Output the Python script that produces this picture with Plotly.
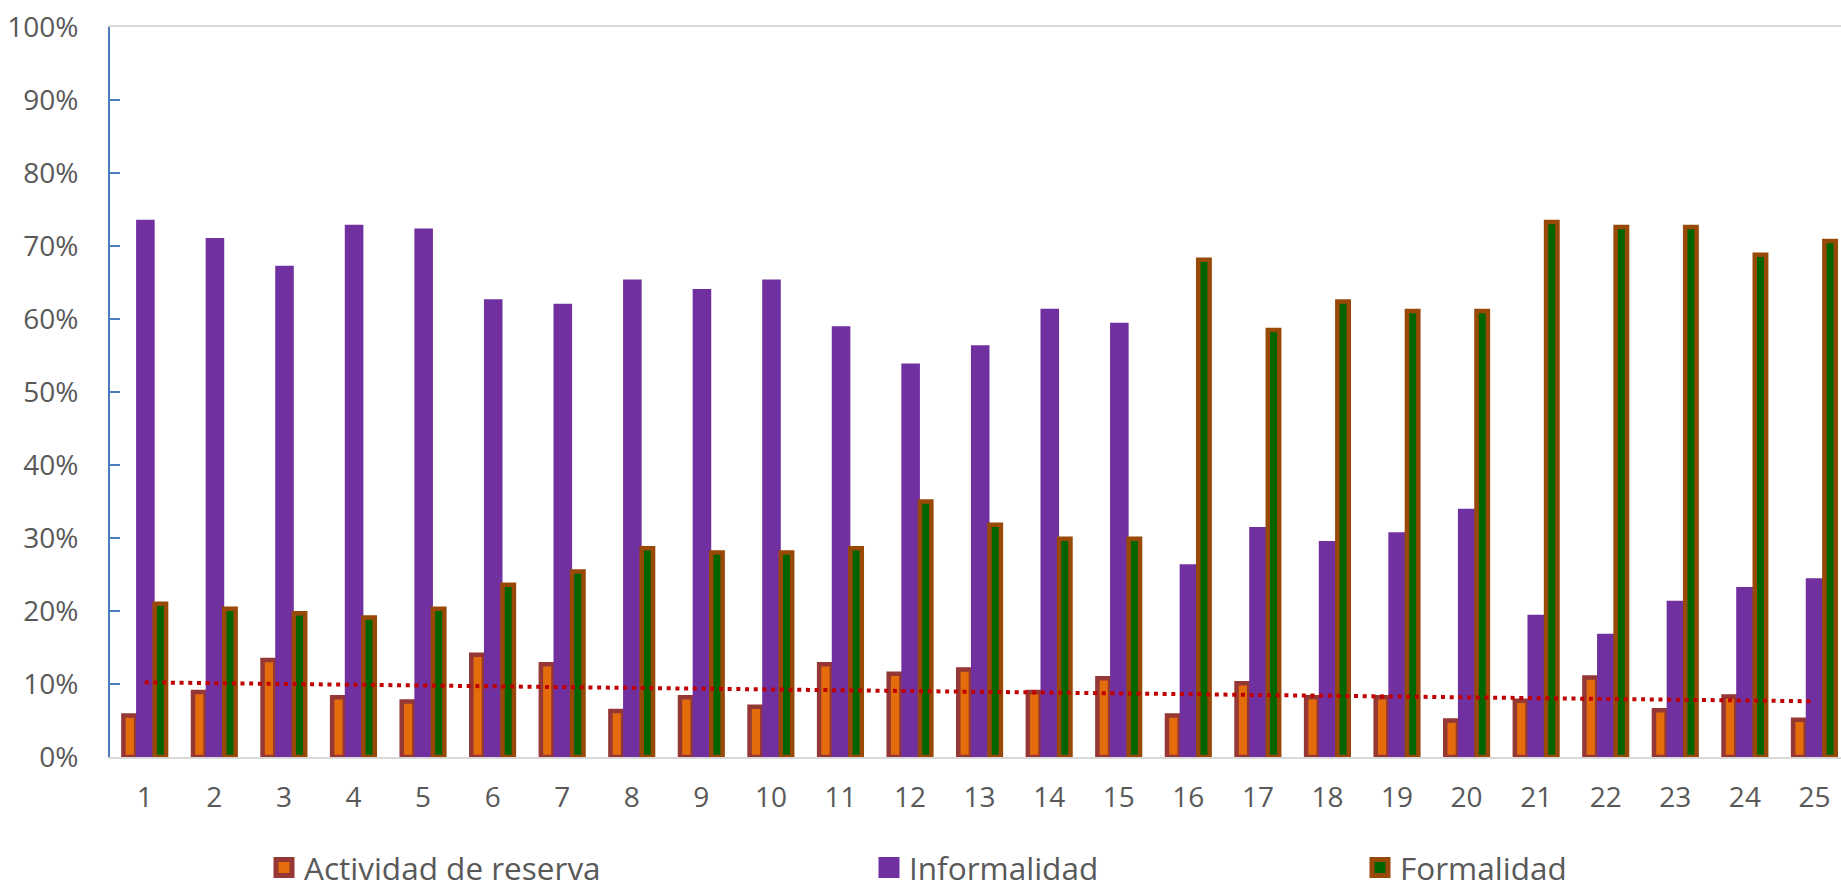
import numpy as np
import plotly.graph_objects as go

categories = [1, 2, 3, 4, 5, 6, 7, 8, 9, 10, 11, 12, 13, 14, 15, 16, 17, 18, 19, 20, 21, 22, 23, 24, 25]
tick_labels = [str(c) for c in categories]

# values in percent
actividad_reserva = [5.7, 8.9, 13.3, 8.2, 7.6, 14.0, 12.7, 6.3, 8.2, 6.9, 12.7, 11.4, 12.0,
                     8.9, 10.8, 5.7, 10.1, 8.2, 8.2, 5.0, 7.7, 10.9, 6.4, 8.3, 5.1]
informalidad = [73.6, 71.1, 67.3, 72.9, 72.4, 62.7, 62.1, 65.4, 64.1, 65.4, 59.0, 53.9, 56.4,
                61.4, 59.5, 26.4, 31.5, 29.6, 30.8, 34.0, 19.5, 16.9, 21.4, 23.3, 24.5]
formalidad = [21.0, 20.3, 19.7, 19.1, 20.3, 23.6, 25.4, 28.6, 28.0, 28.0, 28.6, 35.0, 31.8,
              29.9, 29.9, 68.1, 58.5, 62.4, 61.1, 61.1, 73.3, 72.6, 72.6, 68.8, 70.7]

series_names = ["Actividad de reserva", "Informalidad", "Formalidad"]

ar = np.array(actividad_reserva) / 100
inf = np.array(informalidad) / 100
frm = np.array(formalidad) / 100

# linear trendline of "Actividad de reserva"
coef = np.polyfit(categories, ar, 1)
trend = np.polyval(coef, categories)

C_OR_FILL, C_OR_LINE = "#E46C0A", "#953735"
C_PURPLE = "#7030A0"
C_GR_FILL, C_GR_LINE = "#006400", "#984807"
TXT = "#595959"
FONT = "Open Sans"

fig = go.Figure()
fig.add_trace(go.Bar(x=categories, y=ar, name=series_names[0], showlegend=False,
                     offset=-0.307, width=0.182,
                     marker=dict(color=C_OR_FILL, line=dict(color=C_OR_LINE, width=4.5))))
fig.add_trace(go.Bar(x=categories, y=inf, name=series_names[1], showlegend=False,
                     offset=-0.125, width=0.267,
                     marker=dict(color=C_PURPLE, line=dict(width=0))))
fig.add_trace(go.Bar(x=categories, y=frm, name=series_names[2], showlegend=False,
                     offset=0.142, width=0.164,
                     marker=dict(color=C_GR_FILL, line=dict(color=C_GR_LINE, width=4.5))))
fig.add_trace(go.Scatter(x=categories, y=trend, mode="lines", showlegend=False,
                         line=dict(color="#C00000", width=4, dash="4px,4.7px"),
                         hoverinfo="skip"))

# legend entries (one legend per item so they can be spaced as in the reference)
legend_specs = [
    (series_names[0], C_OR_FILL, C_OR_LINE, 5, "legend"),
    (series_names[1], C_PURPLE, C_PURPLE, 5, "legend2"),
    (series_names[2], C_GR_FILL, C_GR_LINE, 5, "legend3"),
]
for name, fill, line, lw, lg in legend_specs:
    fig.add_trace(go.Scatter(x=[None], y=[None], mode="markers", name=name, legend=lg,
                             marker=dict(symbol="square", size=16, color=fill,
                                         line=dict(color=line, width=lw))))

W, H = 1841, 889
leg_common = dict(orientation="h", xref="container", yref="container", xanchor="left",
                  yanchor="middle", y=1 - 867.5 / H, font=dict(family=FONT, size=31.5, color=TXT),
                  bgcolor="rgba(0,0,0,0)", borderwidth=0, itemwidth=30)

fig.update_layout(
    width=W, height=H, autosize=False,
    margin=dict(l=110, r=0, t=27, b=132),
    paper_bgcolor="white", plot_bgcolor="white",
    barmode="overlay",
    font=dict(family=FONT, color=TXT),
    legend=dict(x=264 / W, **leg_common),
    legend2=dict(x=869 / W, **leg_common),
    legend3=dict(x=1360 / W, **leg_common),
    xaxis=dict(range=[0.5, 0.5 + 1731 / 69.57], tickmode="array", tickvals=categories,
               ticktext=tick_labels, showgrid=False, zeroline=False,
               showline=True, linecolor="#D9D9D9", linewidth=2, mirror=True,
               ticks="", tickfont=dict(family=FONT, size=28, color=TXT), ticklabelstandoff=14),
    yaxis=dict(range=[0, 1], dtick=0.1, tickformat=".0%", showgrid=False, zeroline=False,
               showline=True, linecolor="#4A7EBB", linewidth=2,
               ticks="inside", ticklen=10, tickwidth=2, tickcolor="#4A7EBB",
               tickfont=dict(family=FONT, size=28, color=TXT), ticklabelstandoff=24),
)

fig.write_html("out.html")
